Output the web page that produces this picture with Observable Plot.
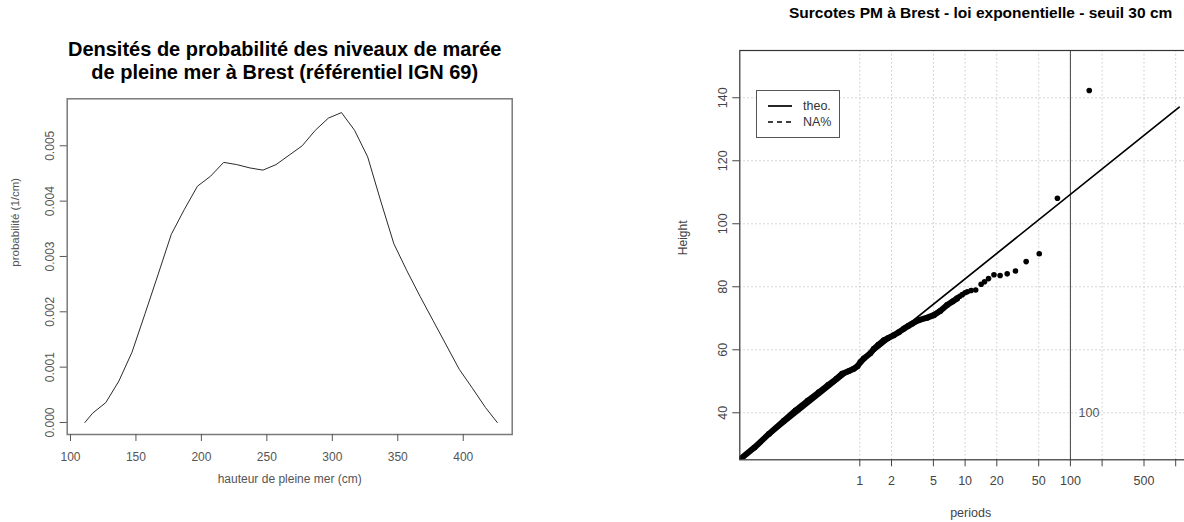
<!DOCTYPE html>
<html>
<head>
<meta charset="utf-8">
<script src="https://cdn.jsdelivr.net/npm/d3@7"></script>
<script src="https://cdn.jsdelivr.net/npm/@observablehq/plot@0.6"></script>
<style>
html, body { margin: 0; padding: 0; background: #fff; overflow: hidden; }
#wrap { position: relative; width: 1184px; height: 522px; overflow: hidden; font-family: "Liberation Sans", Arial, sans-serif; }
#wrap svg { position: absolute; top: 0; }
#legend { position: absolute; left: 756px; top: 90px; width: 82px; height: 46px; border: 1px solid #555; background: #fff; }
#legend .row { position: absolute; left: 0; height: 16px; display: flex; align-items: center; font-size: 12.5px; color: #333; }
#legend svg { position: static; margin-left: 11px; margin-right: 11px; }
</style>
</head>
<body>
<div id="wrap"></div>
<script>
// ---- Left panel: density of high-tide levels at Brest ----
const leftTitle = "Densités de probabilité des niveaux de marée\nde pleine mer à Brest (référentiel IGN 69)";
const leftXLabel = "hauteur de pleine mer (cm)";
const leftYLabel = "probabilité (1/cm)";
const heightCm = [111,117,127,137,147,157,167,177,187,197,207,217,227,237,247,257,267,277,287,297,307,317,327,337,347,357,367,377,387,397,407,417,426];
const density  = [0,0.00017,0.00036,0.00075,0.00127,0.00197,0.00268,0.0034,0.00385,0.00427,0.00445,0.0047,0.00466,0.0046,0.00456,0.00466,0.00483,0.005,0.00528,0.0055,0.0056,0.00528,0.0048,0.004,0.00323,0.00274,0.00228,0.00184,0.0014,0.00096,0.00062,0.00027,0];
const leftXTicks = [100,150,200,250,300,350,400];
const leftYTicks = [0,0.001,0.002,0.003,0.004,0.005];

// ---- Right panel: storm surges, exponential fit ----
const rightTitle = "Surcotes PM à Brest - loi exponentielle - seuil 30 cm";
const rightXLabel = "periods";
const rightYLabel = "Height";
// dense part of the empirical points (band)
const bandPeriod = [0.0725,0.1,0.137,0.19,0.245,0.32,0.408,0.5,0.6,0.68,0.78,0.877,0.95,1.015,1.09,1.26,1.36,1.5,1.69,1.85,2.1,2.35,2.62,2.9,3.14,3.63,4.37,5.04,5.8,6.75,7.6,8.4];
const bandHeight = [25.2,29.0,33.3,37.5,40.7,43.8,46.5,48.8,50.8,52.4,53.2,54.0,54.8,56.1,57.2,58.9,60.3,61.6,63.0,63.7,64.6,65.6,66.7,67.6,68.3,69.4,70.2,71.0,72.3,74.2,75.3,76.3];
// individual largest observations
const obsPeriod = [151,75.3,50.6,38.0,30.1,25.1,21.5,18.8,16.7,15.3,14.2,12.6,11.4,10.5,10.0,9.4,8.9,8.4];
const obsHeight = [142.3,108.1,90.5,88.0,85.0,84.1,83.6,83.8,82.6,81.6,80.8,79.0,78.8,78.4,78.1,77.5,77.0,76.4];
// theoretical return-level line
const theoPeriod = [0.0725,1080];
const theoHeight = [25.2,137.0];
const periodTicks  = [1,2,5,10,20,50,100,200,500,1000];
const periodLabels = ["1","2","5","10","20","50","100","","500",""];
const heightTicks = [40,60,80,100,120,140];
const refPeriod = [100];
const refLabel = [{period: 150, height: 40, text: "100"}];
const legendLabels = ["theo.", "NA%"];
const legendDash = ["none", "5,4"];

const font = "Liberation Sans, Arial, sans-serif";
const wrap = document.getElementById("wrap");

const leftData = heightCm.map((h, i) => ({h, d: density[i]}));

const left = Plot.plot({
  width: 560, height: 522,
  marginLeft: 66.7, marginRight: 48.3, marginTop: 98.3, marginBottom: 88,
  style: {fontFamily: font, fontSize: "12px", background: "transparent"},
  x: {domain: [97.5, 437.4]},
  y: {domain: [-0.000217, 0.005849]},
  marks: [
    Plot.frame({stroke: "#7a7a7a", strokeWidth: 1.5}),
    Plot.axisX({ticks: leftXTicks, tickSize: 7, tickPadding: 11, label: null, color: "#555", tickFormat: d3.format("d")}),
    Plot.axisY({ticks: leftYTicks, tickSize: 7, tickPadding: 6, tickRotate: -90, label: null, color: "#555", tickFormat: d3.format(".3f")}),
    Plot.line(leftData, {x: "h", y: "d", stroke: "#2a2a2a", strokeWidth: 1}),
    Plot.text([leftTitle], {text: d => d, frameAnchor: "top", dy: -59, dx: -5, fontSize: 20, fontWeight: "bold", lineHeight: 1.15, fill: "#000"}),
    Plot.text([leftXLabel], {text: d => d, frameAnchor: "bottom", dy: 48, fontSize: 12, fill: "#555"}),
    Plot.text([leftYLabel], {text: d => d, frameAnchor: "left", dx: -52, rotate: -90, fontSize: 11.5, fill: "#555"})
  ]
});
left.style.left = "0px";
wrap.appendChild(left);

const band = bandPeriod.map((p, i) => ({p, h: bandHeight[i]}));
const obs = obsPeriod.map((p, i) => ({p, h: obsHeight[i]}));
const theo = theoPeriod.map((p, i) => ({p, h: theoHeight[i]}));
const xTickData = periodTicks.map((p, i) => ({p, label: periodLabels[i]}));

const right = Plot.plot({
  width: 640, height: 522,
  marginLeft: 139.3, marginRight: 39, marginTop: 50, marginBottom: 62.7,
  style: {fontFamily: font, fontSize: "12.5px", background: "transparent"},
  x: {type: "log", domain: [0.0725, 1758]},
  y: {domain: [25.08, 155]},
  marks: [
    Plot.gridX(periodTicks, {stroke: "#c8c8c8", strokeOpacity: 1, strokeDasharray: "1.5,2.5"}),
    Plot.gridY(heightTicks, {stroke: "#c8c8c8", strokeOpacity: 1, strokeDasharray: "1.5,2.5"}),
    Plot.ruleX(refPeriod, {stroke: "#444", strokeWidth: 1}),
    Plot.text(refLabel, {x: "period", y: "height", text: "text", fill: "#555", fontSize: 12.5}),
    Plot.line(theo, {x: "p", y: "h", stroke: "#000", strokeWidth: 1.7, clip: true}),
    Plot.line(band, {x: "p", y: "h", stroke: "#000", strokeWidth: 6, strokeLinejoin: "round", strokeLinecap: "round", clip: true}),
    Plot.dot(band, {x: "p", y: "h", r: 3, fill: "#000", clip: true}),
    Plot.dot(obs, {x: "p", y: "h", r: 2.8, fill: "#000"}),
    Plot.frame({stroke: "#333", strokeWidth: 1.2}),
    Plot.axisX({ticks: periodTicks, tickSize: 7, label: null, color: "#444", tickFormat: () => ""}),
    Plot.text(xTickData, {x: "p", text: "label", frameAnchor: "bottom", dy: 25.5, fill: "#444", fontSize: 12.5}),
    Plot.axisY({ticks: heightTicks, tickSize: 7, tickPadding: 6, tickRotate: -90, label: null, color: "#444", tickFormat: d3.format("d")}),
    Plot.text([rightTitle], {text: d => d, frameAnchor: "top", dy: -44, dx: 10, fontSize: 15.5, fontWeight: "bold", fill: "#000"}),
    Plot.text([rightXLabel], {text: d => d, frameAnchor: "bottom", dy: 57, fontSize: 12.5, fill: "#444"}),
    Plot.text([rightYLabel], {text: d => d, frameAnchor: "left", dx: -56.6, rotate: -90, fontSize: 12, fill: "#444"})
  ]
});
right.style.left = "600px";
wrap.appendChild(right);

// legend
const legend = document.createElement("div");
legend.id = "legend";
legendLabels.forEach((lab, i) => {
  const row = document.createElement("div");
  row.className = "row";
  row.style.top = (7 + i * 16) + "px";
  const s = d3.create("svg").attr("width", 24).attr("height", 4);
  s.append("line").attr("x1", 0).attr("x2", 24).attr("y1", 2).attr("y2", 2)
    .attr("stroke", "#000").attr("stroke-width", 1.7)
    .attr("stroke-dasharray", legendDash[i]);
  row.appendChild(s.node());
  const t = document.createElement("span");
  t.textContent = lab;
  row.appendChild(t);
  legend.appendChild(row);
});
wrap.appendChild(legend);
</script>
</body>
</html>
